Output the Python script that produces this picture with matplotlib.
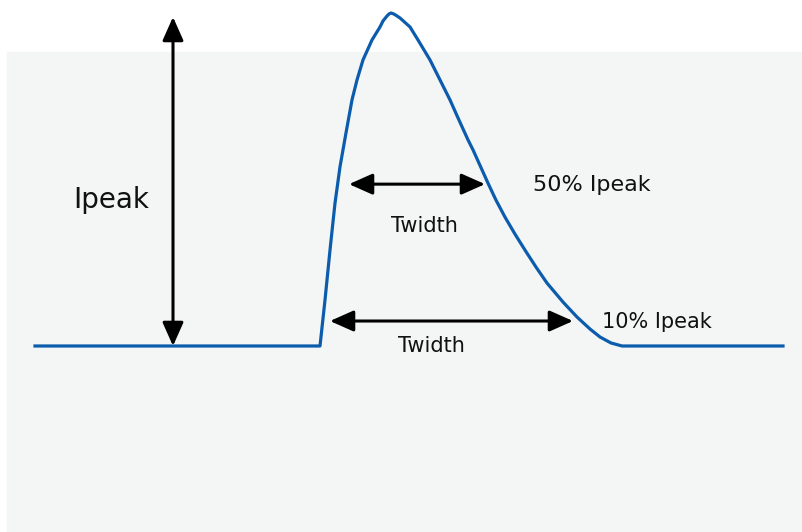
import matplotlib.pyplot as plt
from matplotlib.patches import Rectangle

# pulse shape (time in arbitrary units, current as fraction of Ipeak)
t = [-28.5, 0, 0.5, 1.0, 1.5, 2.0, 2.6, 3.2, 3.7, 4.3, 5.2, 6.0, 6.3, 6.7, 6.9, 7.1,
     7.3, 7.5, 8.0, 9.0, 9.8, 11.0, 12.0, 13.0, 13.8, 14.8, 15.3, 16.8, 17.6, 18.5,
     19.5, 20.5, 21.6, 22.7, 24.3, 25.7, 27.0, 28.0, 29.1, 30.2, 46.3]
current = [0, 0, 0.138, 0.288, 0.429, 0.538, 0.640, 0.739, 0.799, 0.859, 0.919,
           0.958, 0.976, 0.991, 0.997, 1.0, 0.998, 0.995, 0.985, 0.958, 0.919, 0.859,
           0.799, 0.739, 0.685, 0.619, 0.589, 0.489, 0.438, 0.387, 0.336, 0.288,
           0.237, 0.189, 0.132, 0.087, 0.051, 0.027, 0.009, 0, 0]

# annotation arrows
ipeak_t = -14.7
ipeak_top = 0.988
half_level = 0.486
half_start, half_end = 2.9, 16.5
tenth_level = 0.075
tenth_start, tenth_end = 1.0, 25.3

fig = plt.figure(figsize=(8.02, 5.32), dpi=100)

ax = fig.add_axes([0, 0, 1, 1])
ax.set_facecolor('none')
ax.axis('off')
ax.set_xlim(-32.0, 48.2)
ax.set_ylim(-0.5586, 1.039)

# light grey panel behind the drawing
ax.add_patch(Rectangle((7 / 802, 0), 795 / 802, 480 / 532, transform=ax.transAxes,
                       color='#f4f5f5', zorder=0, clip_on=False))

ax.plot(t, current, color='#0b5cad', lw=2.3, solid_joinstyle='round', zorder=3)

arrow = dict(arrowstyle='<|-|>,head_length=0.72,head_width=0.32', mutation_scale=20,
             lw=2.2, color='black', shrinkA=0, shrinkB=0)
ax.annotate('', xy=(ipeak_t, ipeak_top), xytext=(ipeak_t, 0), arrowprops=arrow)
ax.annotate('', xy=(half_end, half_level), xytext=(half_start, half_level), arrowprops=arrow)
ax.annotate('', xy=(tenth_end, tenth_level), xytext=(tenth_start, tenth_level), arrowprops=arrow)

txt = '#111111'
ax.text(-20.9, 0.438, 'Ipeak', fontsize=20, color=txt, ha='center', va='center')
ax.text(10.4, 0.360, 'Twidth', fontsize=15, color=txt, ha='center', va='center')
ax.text(11.1, 0.0, 'Twidth', fontsize=15, color=txt, ha='center', va='center')
ax.text(21.3, 0.483, '50% Ipeak', fontsize=16, color=txt, ha='left', va='center')
ax.text(28.2, 0.072, '10% Ipeak', fontsize=15, color=txt, ha='left', va='center')

fig.savefig('out.png', dpi=100)
